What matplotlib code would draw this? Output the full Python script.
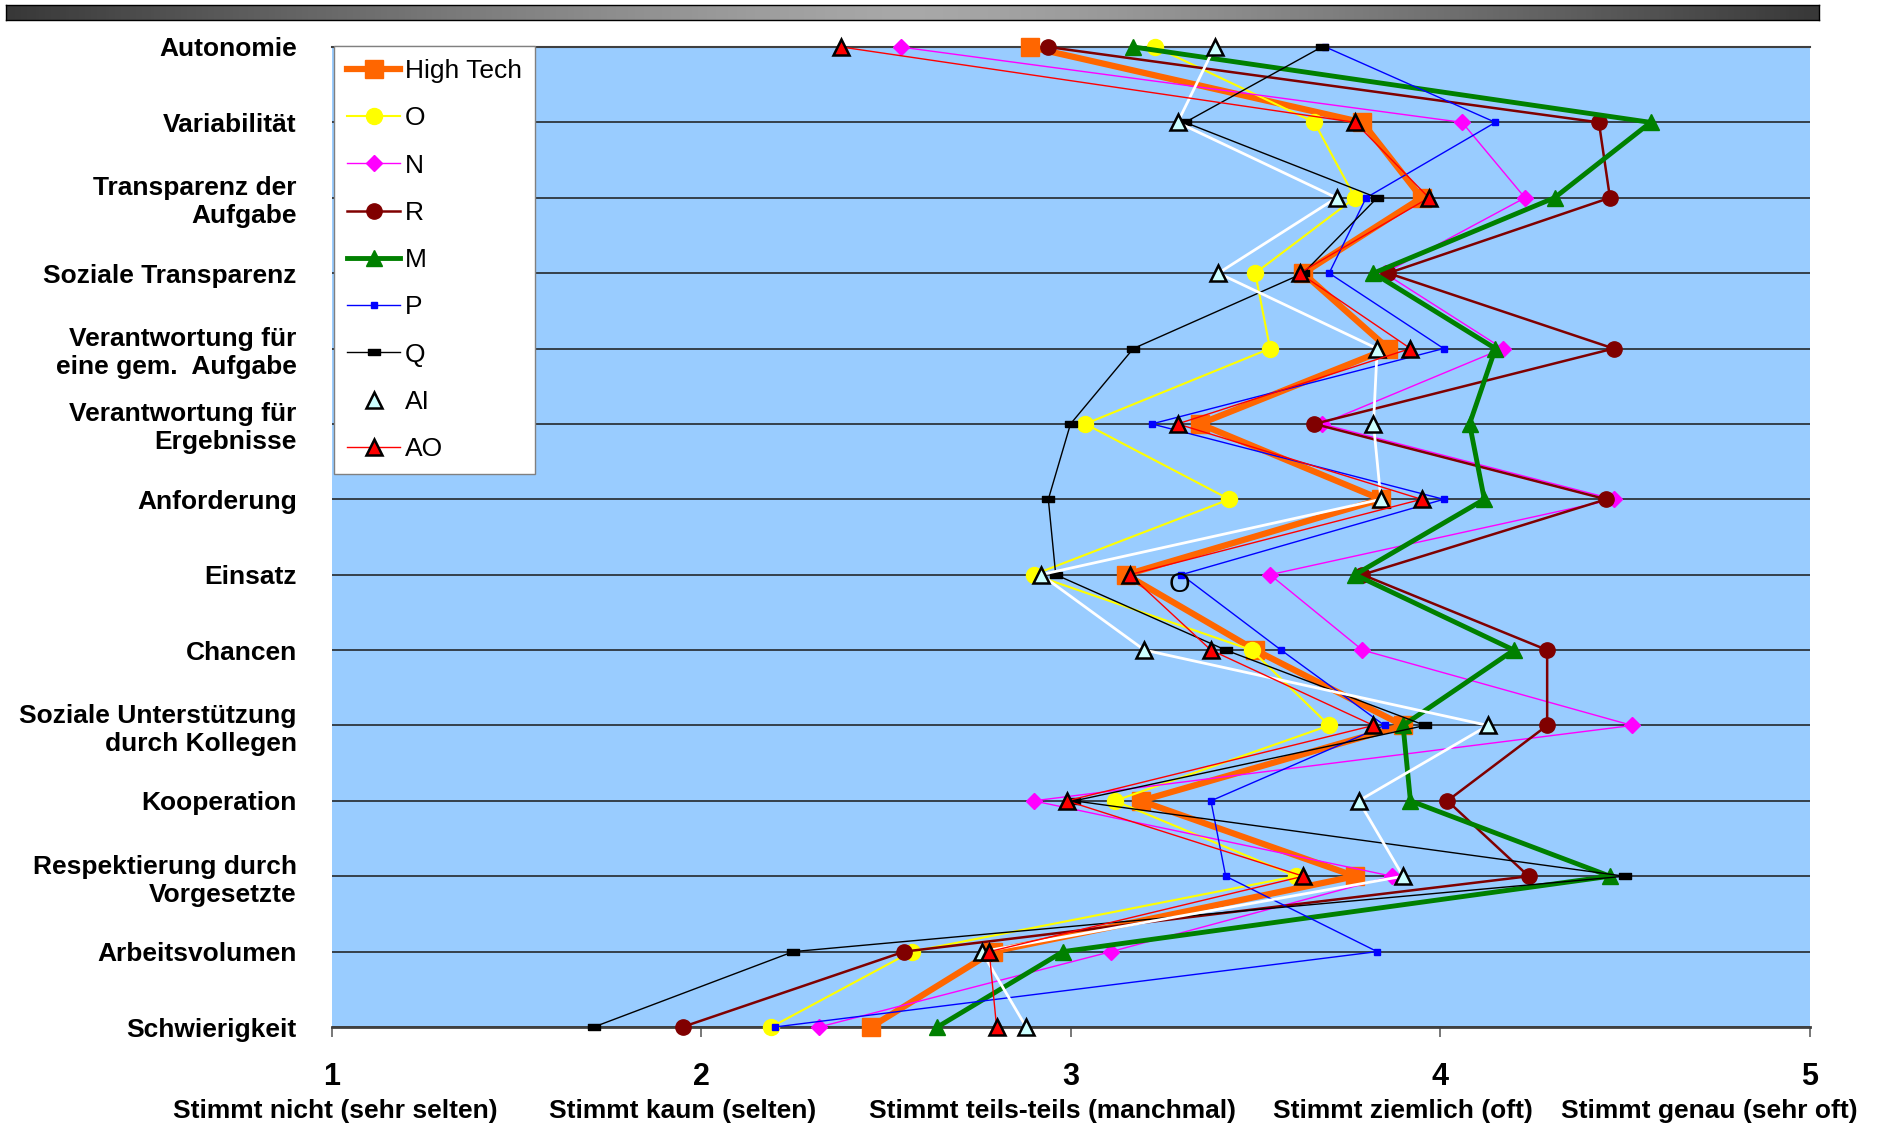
import numpy as np
import matplotlib.pyplot as plt
from matplotlib.colors import LinearSegmentedColormap

plt.rcParams['font.family'] = ['Liberation Sans', 'DejaVu Sans']

categories = ['Autonomie', 'Variabilität', 'Transparenz der\nAufgabe',
              'Soziale Transparenz', 'Verantwortung für\neine gem.  Aufgabe',
              'Verantwortung für\nErgebnisse', 'Anforderung', 'Einsatz',
              'Chancen', 'Soziale Unterstützung\ndurch Kollegen', 'Kooperation',
              'Respektierung durch\nVorgesetzte', 'Arbeitsvolumen', 'Schwierigkeit']

high_tech = [2.89, 3.79, 3.95, 3.63, 3.86, 3.35, 3.84, 3.15, 3.50, 3.90, 3.19, 3.77, 2.79, 2.46]
o_vals = [3.23, 3.66, 3.77, 3.50, 3.54, 3.04, 3.43, 2.90, 3.49, 3.70, 3.12, 3.61, 2.57, 2.19]
n_vals = [2.54, 4.06, 4.23, 3.85, 4.17, 3.68, 4.47, 3.54, 3.79, 4.52, 2.90, 3.87, 3.11, 2.32]
r_vals = [2.94, 4.43, 4.46, 3.86, 4.47, 3.66, 4.45, 3.79, 4.29, 4.29, 4.02, 4.24, 2.55, 1.95]
m_vals = [3.17, 4.57, 4.31, 3.82, 4.15, 4.08, 4.12, 3.77, 4.20, 3.90, 3.92, 4.46, 2.98, 2.64]
p_vals = [3.69, 4.15, 3.80, 3.70, 4.01, 3.22, 4.01, 3.30, 3.57, 3.85, 3.38, 3.42, 3.83, 2.20]
q_vals = [3.68, 3.31, 3.83, 3.63, 3.17, 3.00, 2.94, 2.96, 3.42, 3.96, 3.01, 4.50, 2.25, 1.71]
ai_vals = [3.39, 3.29, 3.72, 3.40, 3.83, 3.82, 3.84, 2.92, 3.20, 4.13, 3.78, 3.90, 2.76, 2.88]
ao_vals = [2.38, 3.77, 3.97, 3.62, 3.92, 3.29, 3.95, 3.16, 3.38, 3.82, 2.99, 3.63, 2.78, 2.80]

scale_ticks = [1, 2, 3, 4, 5]
scale_texts = ['Stimmt nicht (sehr selten)', 'Stimmt kaum (selten)',
               'Stimmt teils-teils (manchmal)', 'Stimmt ziemlich (oft)',
               'Stimmt genau (sehr oft)']
scale_text_pos = [1.01, 1.95, 2.95, 3.90, 4.73]

# Excel-artiger "Strich"-Marker
dash = [(-1, -0.5), (1, -0.5), (1, 0.5), (-1, 0.5), (-1, -0.5)]

series = [
    ('High Tech', high_tech, dict(color='#FF6600', lw=4.5, marker='s', ms=13, mfc='#FF6600', mec='#FF6600')),
    ('O', o_vals, dict(color='#FFFF00', lw=1.5, marker='o', ms=11.5, mfc='#FFFF00', mec='#FFFF00')),
    ('N', n_vals, dict(color='#FF00FF', lw=1.0, marker='D', ms=8, mfc='#FF00FF', mec='#FF00FF')),
    ('R', r_vals, dict(color='#800000', lw=1.8, marker='o', ms=11, mfc='#800000', mec='#800000')),
    ('M', m_vals, dict(color='#008000', lw=3.5, marker='^', ms=11, mfc='#008000', mec='#008000')),
    ('P', p_vals, dict(color='#0000FF', lw=1.0, marker='s', ms=5, mfc='#0000FF', mec='#0000FF')),
    ('Q', q_vals, dict(color='#000000', lw=1.0, marker=dash, ms=9, mfc='#000000', mec='#000000')),
    ('AI', ai_vals, dict(color='#FFFFFF', lw=2.0, marker='^', ms=11, mfc='#CCFFFF', mec='#000000', mew=1.8)),
    ('AO', ao_vals, dict(color='#FF0000', lw=1.0, marker='^', ms=11, mfc='#FF0000', mec='#000000', mew=1.8)),
]

fig = plt.figure(figsize=(18.79, 11.24), dpi=100)
ax = fig.add_axes([331.5 / 1879, 1 - 1027 / 1124, (1809.5 - 331.5) / 1879, (1027 - 47) / 1124])
ax.set_facecolor('#99CCFF')

rows = np.arange(len(categories))
for i, (name, vals, st) in enumerate(series):
    ax.plot(vals, rows, label=name, zorder=3 + i, clip_on=False, **st)

ax.text(3.294, 7.14, 'O', ha='center', va='center', fontsize=20, zorder=20)

ax.set_xlim(1, 5)
ax.set_ylim(len(categories) - 1, 0)
ax.set_xticks(scale_ticks)
ax.set_xticklabels([str(t) for t in scale_ticks], fontsize=22, fontweight='bold')
ax.tick_params(axis='x', direction='out', length=7, width=1.2, color='#606060', pad=18)
ax.set_yticks(rows)
ax.set_yticklabels(categories, fontsize=19, fontweight='bold')
ax.tick_params(axis='y', length=0, pad=25)
ax.set_axisbelow(True)
ax.yaxis.grid(True, color='#1a1a1a', lw=1.1)
for s in ['left', 'right']:
    ax.spines[s].set_visible(False)
ax.spines['top'].set_color('#404040')
ax.spines['top'].set_linewidth(1.5)
ax.spines['bottom'].set_color('#404040')
ax.spines['bottom'].set_linewidth(2.0)

for xp, txt in zip(scale_text_pos, scale_texts):
    ax.text(xp, -0.086, txt, transform=ax.get_xaxis_transform(), ha='center', va='center',
            fontsize=19, fontweight='bold', clip_on=False)

leg = ax.legend(loc='upper left', bbox_to_anchor=(334 / 1879, 1 - 46 / 1124),
                bbox_transform=fig.transFigure, fontsize=19, frameon=True, fancybox=False,
                framealpha=1, edgecolor='#808080', borderpad=0.5, labelspacing=0.88,
                handlelength=2.0, handletextpad=0.2, borderaxespad=0)
leg.get_frame().set_linewidth(1.0)
leg.set_zorder(30)

# Balken oben
bar = fig.add_axes([6 / 1879, 1 - 20 / 1124, (1819 - 6) / 1879, 15 / 1124])
t = np.linspace(0, 1, 600)
grad = 1 - np.abs(2 * t - 1) ** 1.3
cmap = LinearSegmentedColormap.from_list('bar', ['#383838', '#a8a8a8'])
bar.imshow(grad[np.newaxis, :], aspect='auto', cmap=cmap, extent=(0, 1, 0, 1))
bar.set_xticks([])
bar.set_yticks([])
for s in bar.spines.values():
    s.set_color('#000000')
    s.set_linewidth(1.0)

fig.savefig('out.png', dpi=100)
